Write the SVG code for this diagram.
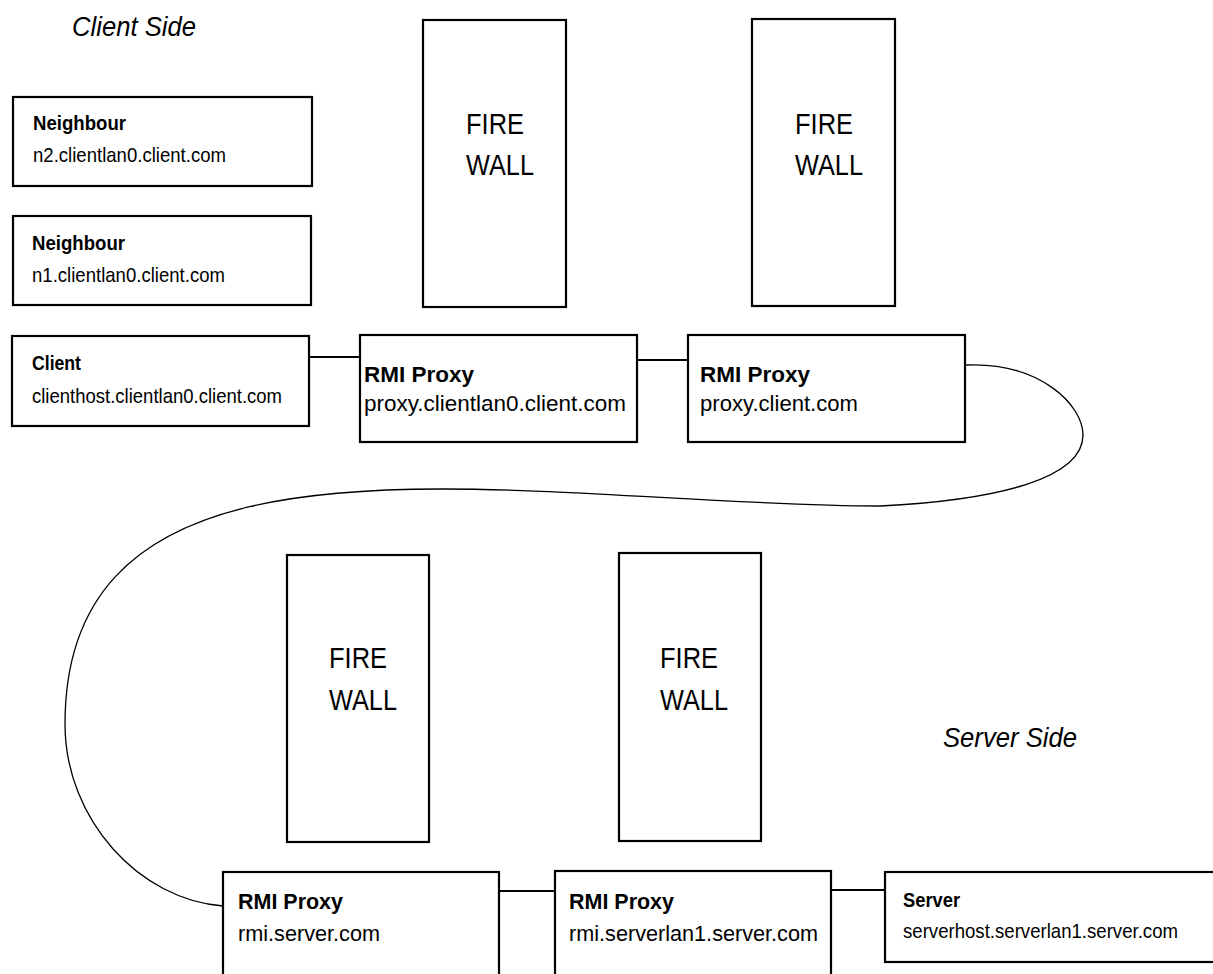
<svg xmlns="http://www.w3.org/2000/svg" width="1213" height="974" viewBox="0 0 1213 974">
<style>
.box{fill:#fff;stroke:#000;stroke-width:2.2}
.t{font-family:"Liberation Sans",Arial,sans-serif;fill:#000}
.sm{font-size:21px}
.md{font-size:22px}
.b{font-weight:bold}
.fw{font-family:"Liberation Sans",Arial,sans-serif;font-size:30px;fill:#000}
.side{font-family:"Liberation Sans",Arial,sans-serif;font-size:27px;font-style:italic;fill:#000}
.link{fill:none;stroke:#000;stroke-width:2}
.curve{fill:none;stroke:#000;stroke-width:1.3}
</style>
<rect width="1213" height="974" fill="#fff"/>
<text class="side" x="72" y="36" textLength="124" lengthAdjust="spacingAndGlyphs">Client Side</text>
<text class="side" x="943" y="747" textLength="134" lengthAdjust="spacingAndGlyphs">Server Side</text>
<g id="connectors">
<line class="link" x1="309" y1="357" x2="360" y2="357"/>
<line class="link" x1="637" y1="360" x2="688" y2="360"/>
<line class="link" x1="499" y1="891" x2="555" y2="891"/>
<line class="link" x1="831" y1="890" x2="885" y2="890"/>
<path class="curve" d="M966,365 C1040,362 1083,405 1083,435 C1083,478 1000,500 880,506 C520,505 65,400 65,724 C65,820 140,900 223,906"/>
</g>
<g id="neighbour2">
<rect class="box" x="13" y="97" width="299" height="89"/>
<text class="t sm b" x="33" y="130" textLength="93" lengthAdjust="spacingAndGlyphs">Neighbour</text>
<text class="t sm" x="33" y="162" textLength="193" lengthAdjust="spacingAndGlyphs">n2.clientlan0.client.com</text>
</g>
<g id="neighbour1">
<rect class="box" x="13" y="216" width="298" height="89"/>
<text class="t sm b" x="32" y="250" textLength="93" lengthAdjust="spacingAndGlyphs">Neighbour</text>
<text class="t sm" x="32" y="282" textLength="193" lengthAdjust="spacingAndGlyphs">n1.clientlan0.client.com</text>
</g>
<g id="client">
<rect class="box" x="12" y="336" width="297" height="90"/>
<text class="t sm b" x="32" y="370" textLength="49" lengthAdjust="spacingAndGlyphs">Client</text>
<text class="t sm" x="32" y="403" textLength="250" lengthAdjust="spacingAndGlyphs">clienthost.clientlan0.client.com</text>
</g>
<g id="firewall1">
<rect class="box" x="423" y="20" width="143" height="287"/>
<text class="fw" x="466" y="134" textLength="58" lengthAdjust="spacingAndGlyphs">FIRE</text>
<text class="fw" x="466" y="175" textLength="68" lengthAdjust="spacingAndGlyphs">WALL</text>
</g>
<g id="firewall2">
<rect class="box" x="752" y="19" width="143" height="287"/>
<text class="fw" x="795" y="134" textLength="58" lengthAdjust="spacingAndGlyphs">FIRE</text>
<text class="fw" x="795" y="175" textLength="68" lengthAdjust="spacingAndGlyphs">WALL</text>
</g>
<g id="proxy-clientlan0">
<rect class="box" x="360" y="335" width="277" height="107"/>
<text class="t md b" x="364" y="382" textLength="110" lengthAdjust="spacingAndGlyphs">RMI Proxy</text>
<text class="t md" x="364" y="411" textLength="262" lengthAdjust="spacingAndGlyphs">proxy.clientlan0.client.com</text>
</g>
<g id="proxy-client">
<rect class="box" x="688" y="335" width="277" height="107"/>
<text class="t md b" x="700" y="382" textLength="110" lengthAdjust="spacingAndGlyphs">RMI Proxy</text>
<text class="t md" x="700" y="411" textLength="158" lengthAdjust="spacingAndGlyphs">proxy.client.com</text>
</g>
<g id="firewall3">
<rect class="box" x="287" y="555" width="142" height="287"/>
<text class="fw" x="329" y="668" textLength="58" lengthAdjust="spacingAndGlyphs">FIRE</text>
<text class="fw" x="329" y="710" textLength="68" lengthAdjust="spacingAndGlyphs">WALL</text>
</g>
<g id="firewall4">
<rect class="box" x="619" y="553" width="142" height="288"/>
<text class="fw" x="660" y="668" textLength="58" lengthAdjust="spacingAndGlyphs">FIRE</text>
<text class="fw" x="660" y="710" textLength="68" lengthAdjust="spacingAndGlyphs">WALL</text>
</g>
<g id="rmi-server">
<rect class="box" x="223" y="872" width="276" height="120"/>
<text class="t md b" x="238" y="909" textLength="105" lengthAdjust="spacingAndGlyphs">RMI Proxy</text>
<text class="t md" x="238" y="941" textLength="142" lengthAdjust="spacingAndGlyphs">rmi.server.com</text>
</g>
<g id="rmi-serverlan1">
<rect class="box" x="555" y="871" width="276" height="120"/>
<text class="t md b" x="569" y="909" textLength="105" lengthAdjust="spacingAndGlyphs">RMI Proxy</text>
<text class="t md" x="569" y="941" textLength="249" lengthAdjust="spacingAndGlyphs">rmi.serverlan1.server.com</text>
</g>
<g id="server">
<rect class="box" x="885" y="872" width="340" height="90"/>
<text class="t sm b" x="903" y="907" textLength="57" lengthAdjust="spacingAndGlyphs">Server</text>
<text class="t sm" x="903" y="938" textLength="275" lengthAdjust="spacingAndGlyphs">serverhost.serverlan1.server.com</text>
</g>
</svg>
